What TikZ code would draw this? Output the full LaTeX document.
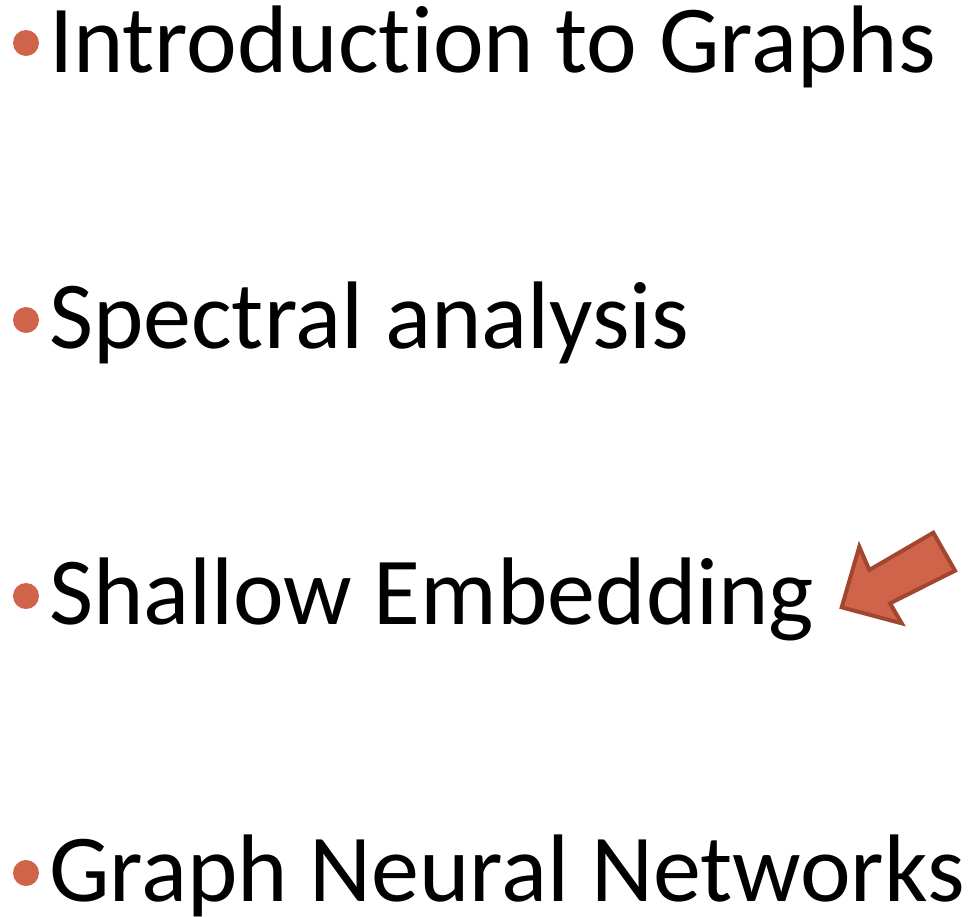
\documentclass[tikz,border=0pt]{standalone}
\usepackage{fontspec}
\setmainfont{Carlito}[RawFeature=-liga]
\definecolor{bulletred}{HTML}{D0644B}
\definecolor{arrowfill}{HTML}{D0644B}
\definecolor{arrowedge}{HTML}{A3462F}
\begin{document}
\begin{tikzpicture}[x=1pt,y=-1pt,
  item/.style={anchor=base west,inner sep=0pt,outer sep=0pt,
    font=\fontsize{96}{96}\selectfont,text=black},
  dot/.style={circle,fill=bulletred,inner sep=0pt,minimum size=26pt}]
\useasboundingbox (0,0) rectangle (969,916);
% bullets
\node[dot] (b1) at (26,43) {};
\node[dot] (b2) at (26,320) {};
\node[dot] (b3) at (26,596) {};
\node[dot] (b4) at (26,873) {};
% items
\node[item] (t1) at (49,72) {Introduction to Graphs};
\node[item] (t2) at (49,348) {Spectral analysis};
\node[item] (t3) at (49,624) {Shallow Embedding};
\node[item] (t4) at (49,901) {Graph Neural Networks};
% block arrow pointing at the third item
\draw[fill=arrowfill,draw=arrowedge,line width=4pt,line join=miter]
  (841.7,607.3) -- (859.3,546.7) -- (869.3,570) -- (933.3,532.7)
  -- (955,570.7) -- (890,603.3) -- (901.7,623.3) -- cycle;
\end{tikzpicture}
\end{document}
